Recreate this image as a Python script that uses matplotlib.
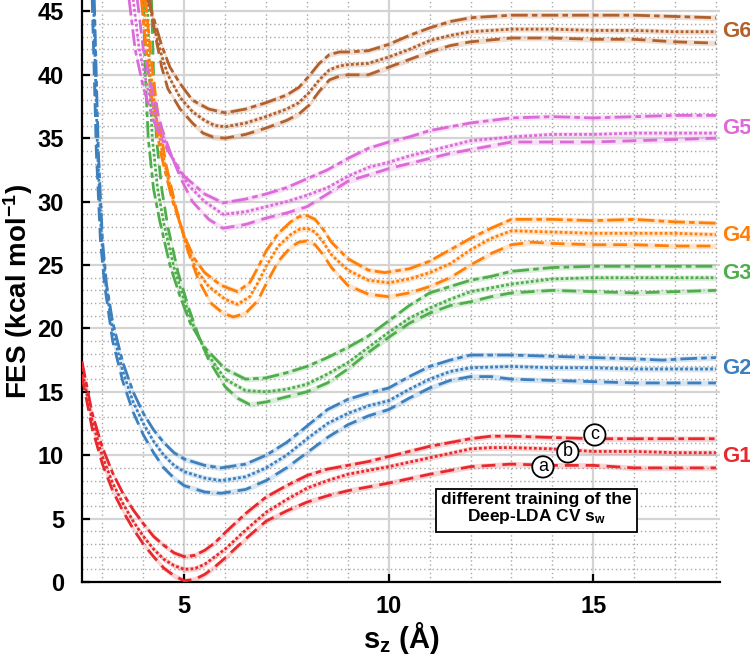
import matplotlib
matplotlib.use("Agg")
import numpy as np
import matplotlib.pyplot as plt
from matplotlib.ticker import MultipleLocator

plt.rcParams['font.family'] = ['Liberation Sans', 'DejaVu Sans']
plt.rcParams['font.weight'] = 'bold'
plt.rcParams['mathtext.fontset'] = 'custom'
plt.rcParams['mathtext.rm'] = 'Liberation Sans:bold'
plt.rcParams['mathtext.bf'] = 'Liberation Sans:bold'
plt.rcParams['mathtext.default'] = 'bf'

# ---- data: FES profiles, three trainings (a dashed, b dotted, c dash-dot) per group ----
g1_ax = [2.5, 2.75, 3.0, 3.25, 3.5, 3.75, 4.0, 4.25, 4.5, 4.75, 5.0, 5.25, 5.5, 5.75, 6.0, 6.5, 7.0, 7.5, 8.0, 8.5, 9.0, 9.5, 10, 11, 12, 12.5, 13, 14, 15, 16, 17, 18]
g1_a = [16.2, 12.1, 9.3, 7.2, 5.6, 4.2, 3.0, 2.0, 1.1, 0.5, 0.1, 0.2, 0.6, 1.2, 1.9, 3.4, 4.8, 5.6, 6.3, 6.8, 7.2, 7.5, 7.8, 8.5, 9.1, 9.2, 9.3, 9.2, 9.2, 9.0, 9.0, 9.0]
g1_b = [16.8, 12.7, 9.9, 7.8, 6.2, 4.8, 3.6, 2.6, 1.8, 1.3, 1.0, 1.05, 1.4, 2.0, 2.6, 4.1, 5.5, 6.5, 7.4, 8.0, 8.5, 8.8, 9.1, 9.8, 10.5, 10.6, 10.6, 10.5, 10.3, 10.3, 10.2, 10.2]
g1_c = [17.4, 13.3, 10.6, 8.6, 7.0, 5.7, 4.6, 3.6, 2.9, 2.3, 2.0, 2.1, 2.5, 3.1, 3.9, 5.4, 6.7, 7.6, 8.4, 8.9, 9.2, 9.5, 9.9, 10.7, 11.3, 11.5, 11.5, 11.4, 11.3, 11.3, 11.3, 11.3]
g1_bx = g1_ax
g1_cx = g1_ax

g2_ax = [2.75, 2.8, 2.85, 2.95, 3.05, 3.25, 3.5, 3.75, 4.0, 4.25, 4.5, 4.75, 5.0, 5.5, 5.9, 6.5, 7.0, 7.5, 8.0, 8.5, 9.0, 9.5, 10, 10.5, 11, 11.5, 12, 12.5, 13, 14, 15, 16, 17, 18]
g2_a = [46, 40, 34, 27, 23.5, 19.0, 15.8, 13.4, 11.6, 10.2, 9.0, 8.2, 7.6, 7.1, 7.0, 7.3, 8.0, 9.0, 10.2, 11.4, 12.4, 13.1, 13.6, 14.5, 15.3, 15.9, 16.2, 16.2, 16.0, 15.9, 15.8, 15.7, 15.7, 15.7]
g2_bx = [2.78, 2.83, 2.88, 2.98, 3.08, 3.25, 3.5, 3.75, 4.0, 4.25, 4.5, 4.75, 5.0, 5.5, 5.9, 6.5, 7.0, 7.5, 8.0, 8.5, 9.0, 9.5, 10, 10.5, 11, 11.5, 12, 13, 14, 15, 16, 17, 18]
g2_b = [46, 40, 34, 27, 23.5, 19.8, 16.6, 14.2, 12.5, 11.1, 10.0, 9.2, 8.7, 8.2, 8.0, 8.3, 9.0, 10.0, 11.3, 12.5, 13.3, 13.9, 14.3, 15.2, 16.0, 16.6, 16.9, 17.0, 16.9, 16.9, 16.8, 16.8, 16.8]
g2_cx = [2.8, 2.85, 2.9, 3.0, 3.1, 3.25, 3.5, 3.75, 4.0, 4.25, 4.5, 4.75, 5.0, 5.5, 5.9, 6.5, 7.0, 7.5, 8.0, 8.5, 9.0, 9.5, 10, 10.5, 11, 11.5, 12, 13, 14, 15, 16, 16.7, 17.2, 18]
g2_c = [46, 40, 34, 27, 23.5, 20.5, 17.3, 15.0, 13.3, 12.0, 11.0, 10.2, 9.7, 9.2, 9.0, 9.3, 10.0, 11.0, 12.3, 13.6, 14.4, 14.9, 15.3, 16.2, 17.0, 17.5, 17.9, 17.9, 17.8, 17.7, 17.6, 17.5, 17.6, 17.7]

g3_ax = [4.2, 4.25, 4.32, 4.45, 4.6, 4.85, 5.1, 5.35, 5.6, 6.0, 6.3, 6.6, 7.0, 7.5, 8.0, 8.5, 9.0, 9.5, 10, 10.5, 11, 11.5, 12, 12.5, 13, 13.5, 14, 15, 16, 17, 18]
g3_a = [46, 40, 35, 31, 28, 24.4, 21.7, 19.4, 17.5, 15.4, 14.5, 14.0, 14.2, 14.6, 15.0, 15.7, 16.8, 18.1, 19.3, 20.4, 21.2, 21.8, 22.1, 22.5, 22.8, 22.9, 23.0, 22.9, 22.8, 22.9, 23.0]
g3_bx = [4.1, 4.15, 4.22, 4.35, 4.5, 4.75, 5.0, 5.25, 5.5, 6.0, 6.5, 7.0, 7.5, 8.0, 8.5, 9.0, 9.5, 10, 10.5, 11, 11.5, 12, 12.5, 13, 14, 15, 16, 17, 18]
g3_b = [46, 40, 35, 31, 28.3, 24.8, 22.2, 20.0, 18.3, 16.0, 15.1, 15.0, 15.2, 15.6, 16.4, 17.3, 18.5, 19.7, 20.8, 21.6, 22.3, 22.9, 23.2, 23.5, 23.9, 24.0, 24.0, 24.0, 24.0]
g3_cx = [4.0, 4.05, 4.12, 4.25, 4.4, 4.65, 4.9, 5.15, 5.5, 6.0, 6.5, 7.0, 7.5, 8.0, 8.5, 9.0, 9.5, 10, 10.5, 11, 11.5, 12, 12.5, 13, 14, 15, 16, 17, 18]
g3_c = [46, 40, 35, 31, 28.5, 25.0, 22.5, 20.4, 18.5, 16.8, 16.0, 16.1, 16.5, 17.0, 17.7, 18.5, 19.4, 20.6, 21.8, 22.8, 23.3, 23.8, 24.1, 24.5, 24.8, 24.9, 24.9, 24.9, 24.9]

g4_ax = [4.05, 4.2, 4.35, 4.55, 4.8, 5.1, 5.35, 5.65, 5.95, 6.2, 6.5, 6.8, 7.0, 7.3, 7.6, 7.8, 8.0, 8.2, 8.4, 8.6, 9.0, 9.5, 10, 10.5, 11, 11.5, 12, 12.5, 13, 13.5, 14, 15, 16, 17, 18]
g4_a = [46, 41, 37, 33, 29.5, 26.0, 23.8, 22.0, 21.2, 20.9, 21.2, 22.2, 23.5, 25.3, 26.4, 26.8, 26.9, 26.6, 25.8, 24.8, 23.4, 22.7, 22.5, 22.8, 23.3, 24.0, 25.0, 25.9, 26.6, 26.8, 26.7, 26.6, 26.6, 26.5, 26.5]
g4_bx = [4.0, 4.15, 4.3, 4.5, 4.75, 5.05, 5.3, 5.6, 6.0, 6.3, 6.6, 6.8, 7.0, 7.3, 7.6, 7.8, 8.0, 8.2, 8.4, 8.6, 9.0, 9.5, 10, 10.5, 11, 11.5, 12, 12.5, 13, 14, 15, 16, 17, 18]
g4_b = [46, 41, 37, 33.3, 29.9, 26.6, 24.6, 23.3, 22.3, 21.9, 22.5, 23.6, 24.9, 26.5, 27.4, 27.8, 27.9, 27.6, 26.8, 25.8, 24.6, 23.8, 23.6, 23.9, 24.4, 25.1, 26.2, 27.1, 27.7, 27.6, 27.5, 27.5, 27.5, 27.4]
g4_cx = [3.95, 4.1, 4.25, 4.45, 4.7, 5.0, 5.25, 5.5, 5.9, 6.3, 6.6, 6.8, 7.0, 7.3, 7.6, 7.8, 8.0, 8.2, 8.4, 8.6, 9.0, 9.5, 9.9, 10.5, 11, 11.5, 12, 12.5, 13, 14, 15, 16, 17, 18]
g4_c = [46, 41, 37, 33.5, 30.2, 27.3, 25.5, 24.4, 23.4, 22.9, 23.6, 24.8, 26.1, 27.5, 28.4, 28.8, 28.9, 28.6, 27.8, 26.8, 25.5, 24.6, 24.4, 24.7, 25.3, 26.2, 27.1, 27.9, 28.6, 28.6, 28.5, 28.6, 28.4, 28.3]

g5_ax = [3.85, 4.0, 4.2, 4.45, 4.7, 4.95, 5.2, 5.6, 5.95, 6.5, 7.0, 7.5, 8.0, 8.5, 9.0, 9.5, 10, 10.5, 11, 11.5, 12, 12.5, 13, 14, 15, 16, 17, 18]
g5_a = [46, 42, 39, 35.8, 33.5, 31.6, 30.0, 28.6, 27.9, 28.2, 28.7, 29.1, 29.6, 30.6, 31.6, 32.1, 32.6, 33.0, 33.4, 33.8, 34.1, 34.4, 34.7, 34.7, 34.7, 34.8, 34.9, 35.0]
g5_bx = [3.75, 3.9, 4.1, 4.35, 4.6, 4.85, 5.1, 5.5, 5.95, 6.5, 7.0, 7.5, 8.0, 8.5, 9.0, 9.5, 10, 10.5, 11, 11.5, 12, 13, 14, 15, 16, 17, 18]
g5_b = [46, 42, 39, 36.2, 34.2, 32.6, 31.3, 30.0, 29.0, 29.2, 29.6, 30.0, 30.5, 31.1, 32.0, 32.7, 33.1, 33.6, 34.0, 34.4, 34.8, 35.1, 35.3, 35.3, 35.4, 35.4, 35.4]
g5_cx = [3.65, 3.8, 4.0, 4.25, 4.5, 4.75, 5.0, 5.5, 5.95, 6.5, 7.0, 7.5, 8.0, 8.5, 9.0, 9.5, 10, 10.5, 11, 11.5, 12, 13, 14, 15, 16, 17, 18]
g5_c = [46, 42, 39, 36.4, 34.6, 33.2, 32.0, 30.6, 29.9, 30.2, 30.6, 31.1, 31.8, 32.5, 33.4, 34.2, 34.7, 35.1, 35.6, 35.9, 36.2, 36.6, 36.7, 36.6, 36.7, 36.8, 36.8]

g6_ax = [4.15, 4.3, 4.45, 4.6, 4.9, 5.2, 5.46, 5.7, 6.0, 6.5, 7.0, 7.5, 7.8, 8.05, 8.3, 8.55, 8.8, 9.0, 9.5, 10, 10.5, 11, 11.5, 12, 13, 14, 15, 16, 17, 18]
g6_a = [46, 43, 40.6, 38.9, 37.3, 36.2, 35.4, 35.1, 35.0, 35.3, 35.8, 36.4, 36.9, 37.6, 38.7, 39.6, 39.9, 40.0, 40.0, 40.6, 41.2, 41.8, 42.3, 42.6, 42.9, 42.9, 42.8, 42.8, 42.6, 42.5]
g6_bx = [4.12, 4.28, 4.45, 4.6, 4.9, 5.2, 5.5, 5.75, 6.0, 6.5, 7.0, 7.5, 7.8, 8.05, 8.3, 8.55, 8.8, 9.0, 9.5, 10, 10.5, 11, 11.5, 12, 13, 14, 15, 16, 17, 18]
g6_b = [46, 43.5, 41.5, 40.0, 38.2, 37.1, 36.4, 36.0, 35.9, 36.2, 36.7, 37.3, 37.8, 38.6, 39.6, 40.4, 40.7, 40.8, 40.9, 41.4, 42.0, 42.7, 43.1, 43.4, 43.6, 43.6, 43.5, 43.5, 43.4, 43.4]
g6_cx = [4.1, 4.24, 4.45, 4.65, 4.9, 5.2, 5.6, 6.0, 6.5, 7.0, 7.5, 7.8, 8.05, 8.3, 8.55, 8.8, 9.0, 9.5, 10, 10.5, 11, 11.5, 12, 13, 14, 15, 16, 17, 18]
g6_c = [46, 44.6, 42.3, 40.6, 39.3, 38.0, 37.3, 37.0, 37.3, 37.8, 38.4, 39.0, 39.9, 40.9, 41.6, 41.8, 41.8, 41.9, 42.4, 43.1, 43.7, 44.2, 44.5, 44.7, 44.7, 44.7, 44.7, 44.6, 44.5]

group_names = ['G1', 'G2', 'G3', 'G4', 'G5', 'G6']
group_label_y = [9.9, 16.8, 24.3, 27.3, 35.8, 43.4]
colors = ['#e8282c', '#3d80bf', '#4fae4b', '#ff8009', '#dc6ad8', '#b2602c']
band = 0.22

groups = [
    (g1_ax, g1_a, g1_bx, g1_b, g1_cx, g1_c),
    (g2_ax, g2_a, g2_bx, g2_b, g2_cx, g2_c),
    (g3_ax, g3_a, g3_bx, g3_b, g3_cx, g3_c),
    (g4_ax, g4_a, g4_bx, g4_b, g4_cx, g4_c),
    (g5_ax, g5_a, g5_bx, g5_b, g5_cx, g5_c),
    (g6_ax, g6_a, g6_bx, g6_b, g6_cx, g6_c),
]

styles = [(0, (5, 2.5)), (0, (1, 0.8)), (0, (6, 1.5, 2, 1.5))]

fig = plt.figure(figsize=(7.5, 6.68), dpi=100)
ax = fig.add_axes([0.1093, 0.1287, 0.8507, 0.8713])

for (ax_, a, bx, b, cx, c), col in zip(groups, colors):
    for xs, ys, ls in [(ax_, a, styles[0]), (bx, b, styles[1]), (cx, c, styles[2])]:
        xs = np.array(xs)
        ys = np.array(ys)
        ax.fill_between(xs, ys - band, ys + band, color=col, alpha=0.2, lw=0, zorder=2)
        ax.plot(xs, ys, color=col, lw=2.0, ls=ls, zorder=3)

ax.set_xlim(2.5, 18.1)
ax.set_ylim(0, 45.9)
ax.xaxis.set_major_locator(MultipleLocator(5))
ax.xaxis.set_minor_locator(MultipleLocator(1))
ax.yaxis.set_major_locator(MultipleLocator(5))
ax.yaxis.set_minor_locator(MultipleLocator(1))
ax.grid(which='major', color='#d4d4d4', lw=1.6, ls='-', zorder=0)
ax.grid(which='minor', color='#a8a8a8', lw=1.0, ls=(0, (1, 2)), zorder=0)
ax.set_axisbelow(True)
for s in ['top', 'right']:
    ax.spines[s].set_visible(False)
for s in ['left', 'bottom']:
    ax.spines[s].set_linewidth(1.6)
ax.tick_params(which='major', direction='in', length=6, width=1.6, labelsize=17, pad=13)
ax.tick_params(axis='x', which='major', pad=9)
ax.tick_params(which='minor', length=0)
for lab in ax.get_xticklabels() + ax.get_yticklabels():
    lab.set_fontweight('bold')

ax.set_ylabel('FES (kcal mol$^{-1}$)', fontsize=20, fontweight='bold', labelpad=2)
ax.set_xlabel('s$_z$ (Å)', fontsize=21, fontweight='bold', labelpad=2)

for name, yl, col in zip(group_names, group_label_y, colors):
    ax.text(1.003, yl, name, transform=ax.get_yaxis_transform(), color=col,
            fontsize=16, fontweight='bold', ha='left', va='center', clip_on=False)

for lab, lx, ly in [('a', 13.77, 9.08), ('b', 14.38, 10.26), ('c', 15.04, 11.6)]:
    ax.text(lx, ly, lab, fontsize=13, fontweight='normal', ha='center', va='center', zorder=5,
            bbox=dict(boxstyle='circle,pad=0.12', fc='white', ec='black', lw=1.3))

ax.text(13.62, 5.75, 'different training of the\nDeep-LDA CV s$_\\mathbf{w}$', fontsize=12.5,
        fontweight='bold', ha='center', va='center', linespacing=1.05, zorder=5,
        bbox=dict(boxstyle='square,pad=0.3', fc='white', ec='black', lw=1.3))

fig.savefig('out.png', dpi=100)
